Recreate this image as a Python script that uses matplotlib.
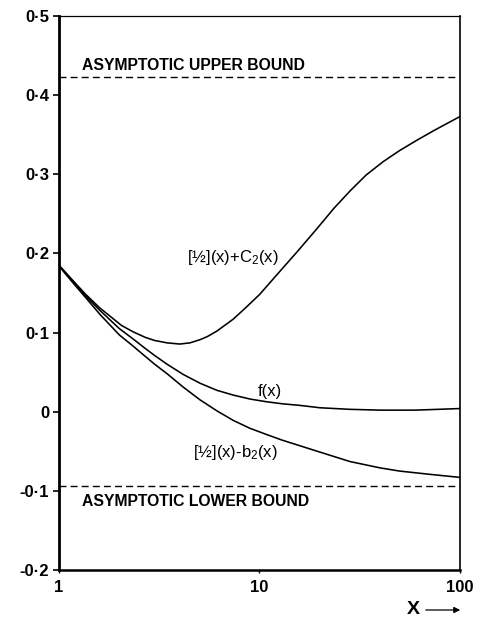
import matplotlib
matplotlib.use('Agg')
import matplotlib.pyplot as plt
from matplotlib import ticker

plt.rcParams['font.family'] = ['Liberation Sans', 'DejaVu Sans']
plt.rcParams['mathtext.fontset'] = 'custom'
plt.rcParams['mathtext.rm'] = 'Liberation Sans'
plt.rcParams['mathtext.it'] = 'Liberation Sans'

# curve [1/2](x)+C2(x)
upper_x = [1, 1.2, 1.35, 1.6, 2.05, 2.34, 2.69, 3.0, 3.46, 4.0, 4.5, 5.05, 5.5, 6.14, 7.4, 8.5,
           10, 12.6, 15.4, 19.3, 23.5, 28.3, 34, 41.4, 50, 60.9, 75, 100]
upper_y = [0.185, 0.163, 0.149, 0.131, 0.109, 0.101, 0.094, 0.090, 0.087, 0.0855, 0.087, 0.091, 0.095, 0.102, 0.117, 0.131,
           0.148, 0.177, 0.202, 0.231, 0.257, 0.279, 0.299, 0.316, 0.330, 0.343, 0.356, 0.373]

# curve f(x)
f_x = [1, 1.2, 1.35, 1.6, 2.0, 2.34, 2.69, 3.0, 3.46, 4.17, 5.05, 6.14, 7.4, 8.97, 10.9,
       13, 15.9, 20, 28.3, 40, 60, 100]
f_y = [0.185, 0.162, 0.147, 0.128, 0.105, 0.092, 0.080, 0.071, 0.060, 0.047, 0.036, 0.027, 0.021, 0.016, 0.0125,
       0.010, 0.008, 0.005, 0.003, 0.002, 0.002, 0.004]

# curve [1/2](x)-b2(x)
b_x = [1, 1.2, 1.35, 1.6, 2.0, 2.34, 2.69, 3.0, 3.46, 4.17, 5.05, 6.14, 7.4, 8.97, 10.9,
       13, 15.9, 20, 28.3, 40, 50, 70, 100]
b_y = [0.184, 0.160, 0.145, 0.123, 0.097, 0.083, 0.070, 0.060, 0.048, 0.031, 0.015, 0.001, -0.011, -0.021, -0.029,
       -0.036, -0.043, -0.051, -0.063, -0.071, -0.075, -0.079, -0.083]

upper_bound = 0.423
lower_bound = -0.094

yticks = [0.5, 0.4, 0.3, 0.2, 0.1, 0, -0.1, -0.2]
ytick_labels = ['0·5', '0·4', '0·3', '0·2', '0·1', '0', '-0·1', '-0·2']
xticks = [1, 10, 100]
xtick_labels = ['1', '10', '100']

fig = plt.figure(figsize=(4.81, 6.18), dpi=100)
ax = fig.add_axes([59/481, 1 - 570/618, (460 - 59)/481, (570 - 16)/618])

ax.plot(upper_x, upper_y, color='black', lw=1.15)
ax.plot(f_x, f_y, color='black', lw=1.15)
ax.plot(b_x, b_y, color='black', lw=1.15)
ax.axhline(upper_bound, color='black', lw=1.0, ls=(0, (5, 3)))
ax.axhline(lower_bound, color='black', lw=1.0, ls=(0, (5, 3)))

ax.set_xscale('log')
ax.set_xlim(1, 100)
ax.set_ylim(-0.2, 0.5)

ax.xaxis.set_major_locator(ticker.FixedLocator(xticks))
ax.xaxis.set_minor_locator(ticker.NullLocator())
ax.set_xticklabels(xtick_labels)
ax.set_yticks(yticks)
ax.set_yticklabels(ytick_labels)

ax.tick_params(axis='y', direction='out', length=4, width=1.2, pad=3, labelsize=12)
ax.tick_params(axis='x', direction='out', length=2.5, width=1.0, pad=5, labelsize=12)
for lab in ax.get_xticklabels() + ax.get_yticklabels():
    lab.set_fontweight('bold')

ax.spines['left'].set_linewidth(2.0)
ax.spines['bottom'].set_linewidth(1.8)
ax.spines['top'].set_linewidth(0.9)
ax.spines['right'].set_linewidth(1.2)

txt = dict(color='black', fontweight='bold', fontsize=11.3)
ax.text(1.3, 0.438, 'ASYMPTOTIC UPPER BOUND', ha='left', va='center', **txt)
ax.text(1.3, -0.114, 'ASYMPTOTIC LOWER BOUND', ha='left', va='center', **txt)
ax.text(7.4, 0.195, r'[½](x)+C$_\mathregular{2}$(x)', ha='center', va='center', fontsize=12)
ax.text(11.3, 0.025, 'f(x)', ha='center', va='center', fontsize=12)
ax.text(7.6, -0.052, r'[½](x)-b$_\mathregular{2}$(x)', ha='center', va='center', fontsize=12)

fig.text(407/481, 1 - 610/618, 'X', ha='left', va='center', fontsize=14, fontweight='bold')
ax.annotate('', xy=(463/481, 1 - 610/618), xytext=(423/481, 1 - 610/618),
            xycoords='figure fraction',
            arrowprops=dict(arrowstyle='-|>', color='black', lw=0.9, mutation_scale=9))

fig.savefig('out.png', dpi=100)
